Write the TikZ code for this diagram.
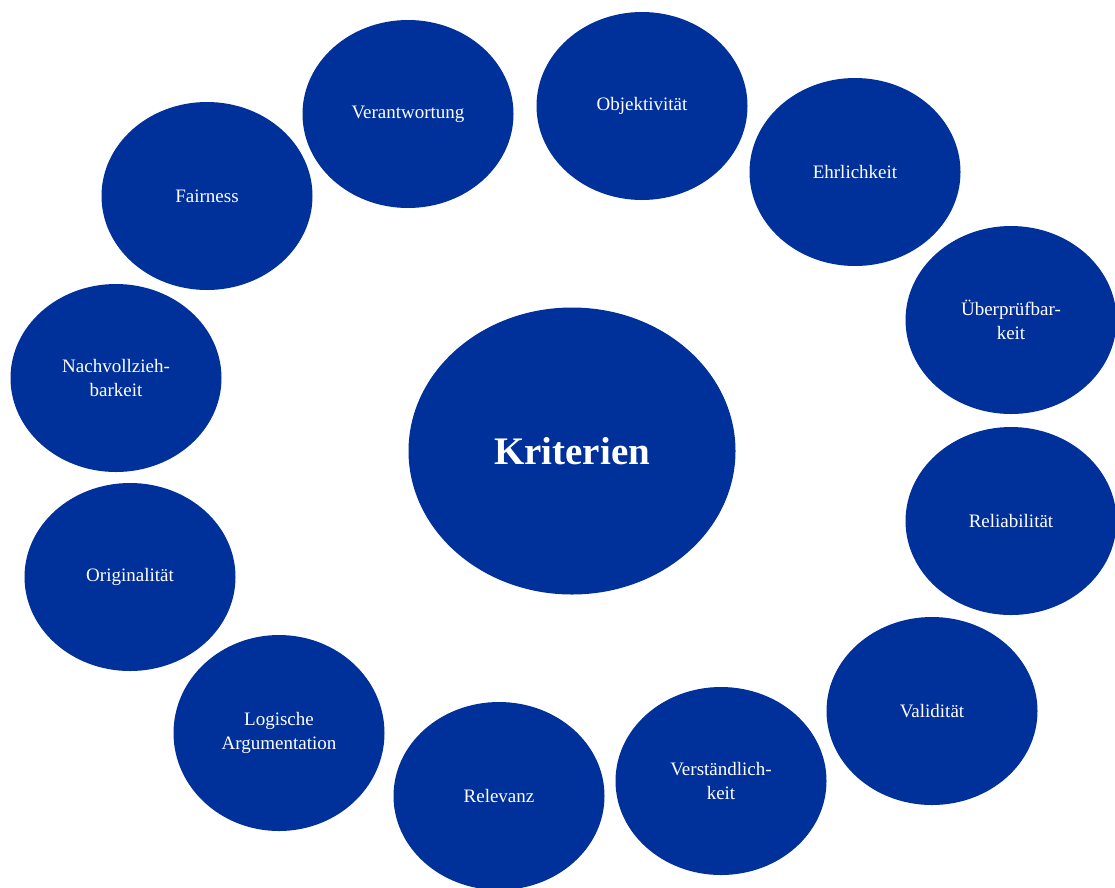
\documentclass[tikz,border=0pt]{standalone}
\usepackage{fontspec}
\setmainfont{Liberation Serif}
\usetikzlibrary{shapes.geometric}
\definecolor{KritBlue}{HTML}{00309A}

\begin{document}
\begin{tikzpicture}[
  x=1pt,y=-1pt,
  hub/.style={ellipse,fill=KritBlue,text=white,inner sep=0pt,minimum width=327pt,minimum height=287pt,font=\fontsize{39}{47}\selectfont\bfseries},
  petal/.style={ellipse,fill=KritBlue,text=white,inner sep=0pt,minimum width=211pt,minimum height=188pt,align=center,font=\fontsize{19}{24}\selectfont}
]
\useasboundingbox (0,0) rectangle (1115,887);
\node[hub] (krit) at (572,451) {Kriterien};
\node[petal] (fair) at (207,196) {Fairness};
\node[petal] (verant) at (408,114) {Verantwortung};
\node[petal] (objekt) at (642,106) {Objektivität};
\node[petal] (ehrl) at (855,172) {Ehrlichkeit};
\node[petal] (ueber) at (1011,320) {Überprüfbar-\\keit};
\node[petal] (relia) at (1011,521) {Reliabilität};
\node[petal] (valid) at (932,711) {Validität};
\node[petal] (verst) at (721,781) {Verständlich-\\keit};
\node[petal] (relev) at (499,796) {Relevanz};
\node[petal,minimum height=196pt] (logik) at (279,733) {Logische\\Argumentation};
\node[petal] (orig) at (130,577) {Originalität};
\node[petal] (nachv) at (116,378) {Nachvollzieh-\\barkeit};
\end{tikzpicture}
\end{document}
